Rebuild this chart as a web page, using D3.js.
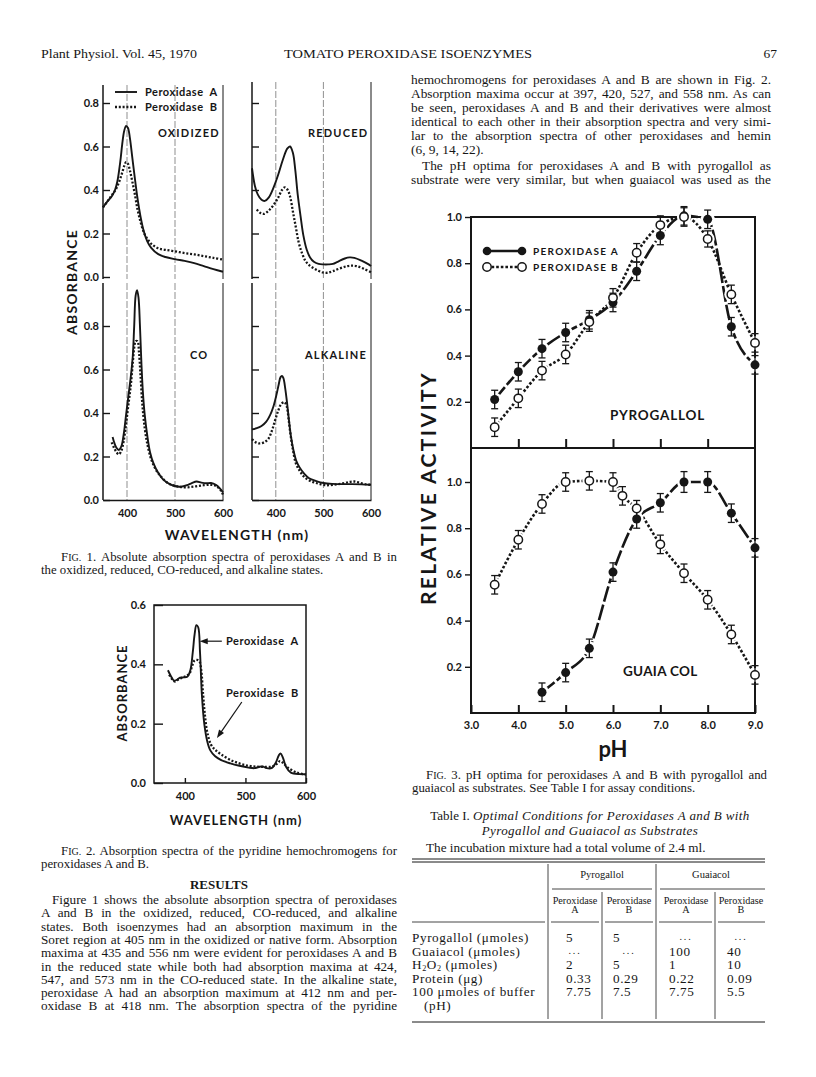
<!DOCTYPE html>
<html>
<head>
<meta charset="utf-8">
<title>Tomato peroxidase isoenzymes, p. 67</title>
<script src="https://cdn.jsdelivr.net/npm/d3@7/dist/d3.min.js"></script>
<style>
  body { margin: 0; background: #fff; }
  svg text { fill: #161616; }
</style>
</head>
<body>
<div id="page"></div>
<script>
// ---- Fig. 1: absolute spectra, [wavelength (nm), absorbance] ----
const oxidizedA = [[350,0.32],[360,0.35],[368,0.37],[375,0.40],[380,0.44],[386,0.53],[390,0.61],[394,0.67],[398,0.695],[402,0.685],[406,0.64],[411,0.55],[416,0.46],[422,0.36],[428,0.28],[435,0.21],[442,0.165],[450,0.135],[465,0.105],[480,0.092],[500,0.082],[520,0.074],[540,0.064],[560,0.05],[580,0.036],[600,0.024]];
const oxidizedB = [[350,0.32],[360,0.35],[368,0.375],[376,0.40],[384,0.44],[390,0.48],[395,0.515],[398,0.528],[402,0.52],[406,0.49],[411,0.44],[416,0.385],[422,0.31],[428,0.255],[436,0.2],[444,0.17],[452,0.15],[465,0.132],[480,0.125],[500,0.118],[520,0.11],[540,0.104],[560,0.096],[580,0.088],[600,0.08]];
const reducedA = [[350,0.5],[356,0.42],[362,0.38],[370,0.355],[377,0.35],[385,0.365],[395,0.41],[405,0.47],[415,0.54],[424,0.59],[430,0.6],[436,0.57],[441,0.49],[446,0.38],[452,0.28],[458,0.19],[465,0.125],[472,0.09],[480,0.07],[490,0.06],[500,0.058],[510,0.058],[520,0.06],[530,0.07],[545,0.085],[555,0.09],[565,0.088],[580,0.075],[595,0.058],[600,0.05]];
const reducedB = [[360,0.31],[367,0.295],[375,0.29],[385,0.305],[395,0.33],[405,0.365],[413,0.4],[419,0.412],[425,0.4],[430,0.37],[436,0.3],[442,0.23],[448,0.16],[455,0.11],[462,0.075],[470,0.055],[480,0.04],[490,0.028],[500,0.02],[510,0.02],[520,0.027],[535,0.04],[550,0.05],[560,0.052],[570,0.05],[585,0.038],[600,0.022]];
const coA = [[370,0.29],[374,0.26],[378,0.24],[383,0.23],[388,0.245],[393,0.3],[398,0.39],[403,0.48],[408,0.57],[412,0.66],[415,0.8],[418,0.94],[421,0.965],[424,0.93],[427,0.8],[430,0.63],[433,0.5],[437,0.39],[442,0.3],[448,0.22],[455,0.17],[465,0.125],[475,0.095],[490,0.072],[505,0.062],[515,0.062],[525,0.068],[535,0.078],[545,0.085],[555,0.08],[565,0.077],[575,0.078],[585,0.07],[593,0.055],[600,0.035]];
const coB = [[368,0.265],[373,0.24],[378,0.22],[383,0.21],[388,0.225],[393,0.27],[398,0.35],[403,0.44],[408,0.53],[412,0.63],[415,0.7],[418,0.73],[422,0.73],[425,0.68],[428,0.58],[432,0.44],[437,0.33],[443,0.25],[450,0.19],[460,0.14],[470,0.11],[485,0.078],[500,0.065],[520,0.058],[540,0.062],[560,0.068],[575,0.07],[585,0.065],[595,0.045],[600,0.025]];
const alkalineA = [[350,0.325],[360,0.33],[370,0.34],[380,0.36],[388,0.39],[395,0.43],[401,0.48],[406,0.53],[410,0.565],[413,0.57],[416,0.56],[420,0.51],[424,0.44],[428,0.36],[432,0.29],[437,0.23],[443,0.18],[450,0.15],[460,0.12],[470,0.1],[485,0.087],[500,0.078],[520,0.074],[540,0.073],[560,0.073],[580,0.072],[600,0.07]];
const alkalineB = [[350,0.28],[358,0.265],[366,0.26],[375,0.265],[384,0.28],[392,0.32],[399,0.37],[405,0.41],[411,0.44],[418,0.45],[423,0.43],[427,0.37],[431,0.3],[436,0.23],[442,0.17],[450,0.135],[460,0.105],[475,0.085],[490,0.075],[505,0.068],[520,0.07],[540,0.076],[555,0.083],[565,0.085],[575,0.08],[590,0.072],[600,0.07]];
const fig1States = ['OXIDIZED', 'REDUCED', 'CO', 'ALKALINE'];
const absTicks = [0, 0.2, 0.4, 0.6, 0.8];
const nmTicks = [400, 500, 600];

// ---- Fig. 2: pyridine hemochromogens ----
const pyridineA = [[372,0.38],[377,0.36],[382,0.345],[387,0.348],[392,0.355],[398,0.356],[404,0.358],[409,0.38],[413,0.44],[416,0.5],[419,0.532],[422,0.525],[425,0.44],[428,0.3],[432,0.2],[437,0.14],[442,0.11],[450,0.09],[460,0.077],[475,0.066],[490,0.058],[505,0.052],[515,0.05],[522,0.054],[528,0.056],[535,0.05],[543,0.05],[550,0.068],[555,0.093],[558,0.1],[562,0.085],[567,0.055],[575,0.035],[590,0.03],[600,0.03]];
const pyridineB = [[374,0.365],[379,0.35],[384,0.342],[390,0.35],[396,0.356],[402,0.36],[408,0.37],[412,0.395],[416,0.413],[420,0.415],[424,0.41],[427,0.38],[430,0.3],[433,0.23],[437,0.17],[443,0.13],[450,0.112],[460,0.096],[475,0.078],[490,0.066],[505,0.058],[520,0.055],[535,0.054],[545,0.056],[552,0.065],[557,0.074],[562,0.068],[570,0.052],[585,0.035],[600,0.028]];
const fig2Ticks = [0, 0.2, 0.4, 0.6];

// ---- Fig. 3: pH optima, [pH, relative activity, error] ----
const pyrogallolA = [[3.5,0.21,0.04],[4.0,0.33,0.04],[4.5,0.43,0.04],[5.0,0.50,0.04],[5.5,0.555,0.04],[6.0,0.63,0.04],[6.5,0.765,0.04],[7.0,0.92,0.04],[7.5,1.005,0.04],[8.0,0.99,0.04],[8.5,0.525,0.04],[9.0,0.36,0.04]];
const pyrogallolB = [[3.5,0.09,0.04],[4.0,0.215,0.04],[4.5,0.335,0.04],[5.0,0.405,0.04],[5.5,0.545,0.04],[6.0,0.65,0.04],[6.5,0.845,0.04],[7.0,0.965,0.04],[7.5,1.0,0.04],[8.0,0.905,0.035],[8.5,0.665,0.04],[9.0,0.455,0.04]];
const guaiacolA = [[4.5,0.09,0.04],[5.0,0.175,0.04],[5.5,0.28,0.04],[6.0,0.61,0.04],[6.5,0.84,0.04],[7.0,0.91,0.04],[7.5,1.0,0.045],[8.0,1.0,0.045],[8.5,0.865,0.04],[9.0,0.715,0.04]];
const guaiacolB = [[3.5,0.555,0.04],[4.0,0.75,0.04],[4.5,0.905,0.04],[5.0,1.0,0.04],[5.5,1.005,0.04],[6.0,1.0,0.04],[6.2,0.94,0.04],[6.5,0.885,0.035],[7.0,0.73,0.04],[7.5,0.605,0.04],[8.0,0.49,0.04],[8.5,0.34,0.04],[9.0,0.165,0.04]];
const phTicks = [3, 4, 5, 6, 7, 8, 9];
const activityTicks = [0.2, 0.4, 0.6, 0.8, 1.0];

// ---- Table I ----
const tableSubstrates = ['Pyrogallol', 'Guaiacol'];
const tableEnzymes = ['A', 'B', 'A', 'B'];
const tableRowLabels = ['Pyrogallol (μmoles)', 'Guaiacol (μmoles)', 'H₂O₂ (μmoles)', 'Protein (μg)', '100 μmoles of buffer'];
const pyroPerA = ['5', '...', '2', '0.33', '7.75'];
const pyroPerB = ['5', '...', '5', '0.29', '7.5'];
const guaiPerA = ['...', '100', '1', '0.22', '7.75'];
const guaiPerB = ['...', '40', '10', '0.09', '5.5'];

// ---- running text ----
const headerLeft = 'Plant Physiol. Vol. 45, 1970';
const headerTitle = 'TOMATO PEROXIDASE ISOENZYMES';
const pageNumber = '67';
const rightTopLines = [
  'hemochromogens for peroxidases A and B are shown in Fig. 2.',
  'Absorption maxima occur at 397, 420, 527, and 558 nm. As can',
  'be seen, peroxidases A and B and their derivatives were almost',
  'identical to each other in their absorption spectra and very simi-',
  'lar to the absorption spectra of other peroxidases and hemin',
  '(6, 9, 14, 22).',
  'The pH optima for peroxidases A and B with pyrogallol as',
  'substrate were very similar, but when guaiacol was used as the'
];
const resultsLines = [
  'Figure 1 shows the absolute absorption spectra of peroxidases',
  'A and B in the oxidized, reduced, CO-reduced, and alkaline',
  'states. Both isoenzymes had an absorption maximum in the',
  'Soret region at 405 nm in the oxidized or native form. Absorption',
  'maxima at 435 and 556 nm were evident for peroxidases A and B',
  'in the reduced state while both had absorption maxima at 424,',
  '547, and 573 nm in the CO-reduced state. In the alkaline state,',
  'peroxidase A had an absorption maximum at 412 nm and per-',
  'oxidase B at 418 nm. The absorption spectra of the pyridine'
];
const fig1Caption = ['FIG. 1. Absolute absorption spectra of peroxidases A and B in',
  'the oxidized, reduced, CO-reduced, and alkaline states.'];
const fig2Caption = ['FIG. 2. Absorption spectra of the pyridine hemochromogens for',
  'peroxidases A and B.'];
const fig3Caption = ['FIG. 3. pH optima for peroxidases A and B with pyrogallol and',
  'guaiacol as substrates. See Table I for assay conditions.'];

const SERIF = '"Liberation Serif", "Times New Roman", serif';
const SANS = 'Lato, "DejaVu Sans", sans-serif';
const INK = '#161616';
const BODY = 13.4;
const CAPTION = 12.8;

const svg = d3.select('#page').append('svg')
  .attr('width', 816)
  .attr('height', 1077);

// write a string into a text node, small caps for "FIG." and subscripts for ₂
function fillText(t, str, size) {
  let rest = str;
  if (rest.startsWith('FIG.')) {
    t.append('tspan').text('F');
    t.append('tspan').attr('font-size', size * 0.78).text('IG.');
    rest = rest.slice(4);
  }
  let lowered = false;
  rest.split(/(₂)/).forEach(piece => {
    if (!piece) return;
    if (piece === '₂') {
      t.append('tspan').attr('font-size', size * 0.62).attr('dy', 2).text('2');
      lowered = true;
    } else {
      const ts = t.append('tspan').text(piece);
      if (lowered) { ts.attr('dy', -2); lowered = false; }
    }
  });
}

// one line of body text, optionally justified between x0 and x1
function textLine(str, x0, x1, y, opts = {}) {
  const size = opts.size || BODY;
  const indent = opts.indent || 0;
  const t = svg.append('text')
    .attr('x', x0 + indent)
    .attr('y', y)
    .attr('font-family', SERIF)
    .attr('font-size', size);
  fillText(t, str, size);
  if (opts.justify) {
    const natural = t.node().getComputedTextLength();
    const gaps = (str.match(/ /g) || []).length;
    if (gaps) t.attr('word-spacing', (x1 - x0 - indent - natural) / gaps);
  }
  return t;
}

function styleAxis(g, size) {
  g.selectAll('text')
    .attr('font-family', SANS)
    .attr('font-weight', 700)
    .attr('font-size', size)
    .attr('fill', INK);
  g.selectAll('line').attr('stroke', INK).attr('stroke-width', 1.4);
}

// ---------------- header ----------------
svg.append('text').attr('x', 41).attr('y', 58)
  .attr('font-family', SERIF).attr('font-size', 13.5)
  .attr('textLength', 156).attr('lengthAdjust', 'spacingAndGlyphs')
  .text(headerLeft);
svg.append('text').attr('x', 284).attr('y', 58)
  .attr('font-family', SERIF).attr('font-size', 13.5)
  .attr('textLength', 248).attr('lengthAdjust', 'spacingAndGlyphs')
  .text(headerTitle);
svg.append('text').attr('x', 777).attr('y', 58)
  .attr('text-anchor', 'end')
  .attr('font-family', SERIF).attr('font-size', 13.5)
  .text(pageNumber);

// ---------------- Fig. 1 ----------------
const fig1Panels = [
  { a: oxidizedA, b: oxidizedB, left: 103, right: 223, top: 85, base: 277, yLabels: true, xLabels: false, tx: 158, ty: 137 },
  { a: reducedA, b: reducedB, left: 252, right: 371, top: 82, base: 277, yLabels: false, xLabels: false, tx: 308, ty: 137 },
  { a: coA, b: coB, left: 103, right: 223, top: 283, base: 500, yLabels: true, xLabels: true, tx: 190, ty: 359 },
  { a: alkalineA, b: alkalineB, left: 252, right: 371, top: 283, base: 500, yLabels: false, xLabels: true, tx: 305, ty: 359 }
];

const fig1 = svg.append('g').attr('class', 'fig1');

fig1Panels.forEach((p, i) => {
  const x = d3.scaleLinear().domain([350, 600]).range([p.left, p.right]);
  const y = d3.scaleLinear().domain([0, 0.8]).range([p.base, p.base - 174]);
  const g = fig1.append('g');

  // wavelength guide lines
  nmTicks.forEach(nm => {
    g.append('line')
      .attr('x1', x(nm)).attr('x2', x(nm))
      .attr('y1', p.top).attr('y2', p.base + (p.xLabels ? 0 : 2))
      .attr('stroke', nm === 600 ? INK : '#444')
      .attr('stroke-width', nm === 600 ? 1 : 0.6)
      .attr('stroke-dasharray', nm === 600 ? null : '7,2');
  });

  // left axis line
  g.append('line')
    .attr('x1', p.left).attr('x2', p.left)
    .attr('y1', p.top).attr('y2', p.base + (p.xLabels ? 0 : 2))
    .attr('stroke', INK).attr('stroke-width', 1.5);

  const yAxis = g.append('g')
    .attr('transform', `translate(${p.left},0)`)
    .call(d3.axisLeft(y).tickValues(absTicks).tickSize(-7).tickPadding(4)
      .tickFormat(p.yLabels ? d3.format('.1f') : ''));
  yAxis.select('.domain').remove();
  styleAxis(yAxis, 11);

  if (p.xLabels) {
    const xAxis = g.append('g')
      .attr('transform', `translate(0,${p.base})`)
      .call(d3.axisBottom(x).tickValues(nmTicks).tickSize(0).tickPadding(9).tickSizeOuter(0));
    xAxis.select('.domain').attr('stroke', INK).attr('stroke-width', 1.5);
    styleAxis(xAxis, 11);
  }

  const line = d3.line()
    .x(d => x(d[0]))
    .y(d => y(d[1]))
    .curve(d3.curveCatmullRom.alpha(0.5));

  g.append('path')
    .attr('d', line(p.b))
    .attr('fill', 'none')
    .attr('stroke', INK)
    .attr('stroke-width', 2.3)
    .attr('stroke-dasharray', '2,1.8');

  g.append('path')
    .attr('d', line(p.a))
    .attr('fill', 'none')
    .attr('stroke', INK)
    .attr('stroke-width', 1.9);

  g.append('text')
    .attr('x', p.tx).attr('y', p.ty)
    .attr('font-family', SANS).attr('font-weight', 700)
    .attr('font-size', 11).attr('letter-spacing', 1.2)
    .text(fig1States[i]);
});

// legend of Fig. 1
const leg1 = fig1.append('g');
leg1.append('line').attr('x1', 115).attr('x2', 137).attr('y1', 92).attr('y2', 92)
  .attr('stroke', INK).attr('stroke-width', 1.9);
leg1.append('line').attr('x1', 115).attr('x2', 137).attr('y1', 107).attr('y2', 107)
  .attr('stroke', INK).attr('stroke-width', 2.3).attr('stroke-dasharray', '2,1.8');
['Peroxidase  A', 'Peroxidase  B'].forEach((s, i) => {
  leg1.append('text')
    .attr('x', 145).attr('y', 96 + i * 15)
    .attr('font-family', SANS).attr('font-weight', 700)
    .attr('font-size', 11).attr('letter-spacing', 0.5)
    .attr('xml:space', 'preserve')
    .text(s);
});

fig1.append('text')
  .attr('transform', 'translate(77,282) rotate(-90)')
  .attr('text-anchor', 'middle')
  .attr('font-family', SANS).attr('font-weight', 700)
  .attr('font-size', 14).attr('letter-spacing', 1.2)
  .text('ABSORBANCE');
fig1.append('text')
  .attr('x', 237).attr('y', 540)
  .attr('text-anchor', 'middle')
  .attr('font-family', SANS).attr('font-weight', 700)
  .attr('font-size', 14).attr('letter-spacing', 1.2)
  .text('WAVELENGTH (nm)');

// caption
textLine(fig1Caption[0], 41, 397, 561, { justify: true, indent: 20, size: CAPTION });
textLine(fig1Caption[1], 41, 397, 574, { size: CAPTION });

// ---------------- Fig. 2 ----------------
const fig2 = svg.append('g').attr('class', 'fig2');
const x2 = d3.scaleLinear().domain([349, 600]).range([154, 306]);
const y2 = d3.scaleLinear().domain([0, 0.6]).range([783, 605]);

fig2.append('rect')
  .attr('x', 154).attr('y', 605).attr('width', 152).attr('height', 178)
  .attr('fill', 'none').attr('stroke', INK).attr('stroke-width', 1.5);

const y2Axis = fig2.append('g')
  .attr('transform', 'translate(154,0)')
  .call(d3.axisLeft(y2).tickValues(fig2Ticks).tickSize(-9).tickPadding(8).tickFormat(d3.format('.1f')));
y2Axis.select('.domain').remove();
styleAxis(y2Axis, 11);

const x2Axis = fig2.append('g')
  .attr('transform', 'translate(0,783)')
  .call(d3.axisBottom(x2).tickValues(nmTicks).tickSize(-5).tickPadding(9));
x2Axis.select('.domain').remove();
styleAxis(x2Axis, 11);

const line2 = d3.line()
  .x(d => x2(d[0]))
  .y(d => y2(d[1]))
  .curve(d3.curveCatmullRom.alpha(0.5));

fig2.append('path')
  .attr('d', line2(pyridineB))
  .attr('fill', 'none').attr('stroke', INK)
  .attr('stroke-width', 2.3).attr('stroke-dasharray', '2,1.8');
fig2.append('path')
  .attr('d', line2(pyridineA))
  .attr('fill', 'none').attr('stroke', INK)
  .attr('stroke-width', 1.9);

// arrows to the two curves
function arrow(g, from, to) {
  const [fx, fy] = [x2(from[0]), y2(from[1])];
  const [tx, ty] = [x2(to[0]), y2(to[1])];
  const ang = Math.atan2(ty - fy, tx - fx);
  g.append('line')
    .attr('x1', fx).attr('y1', fy)
    .attr('x2', tx - 5 * Math.cos(ang)).attr('y2', ty - 5 * Math.sin(ang))
    .attr('stroke', INK).attr('stroke-width', 1.2);
  const hw = 3;
  const bx = tx - 8 * Math.cos(ang), by = ty - 8 * Math.sin(ang);
  g.append('path')
    .attr('d', `M${tx},${ty}L${bx - hw * Math.sin(ang)},${by + hw * Math.cos(ang)}L${bx + hw * Math.sin(ang)},${by - hw * Math.cos(ang)}Z`)
    .attr('fill', INK);
}
arrow(fig2, [461, 0.478], [424.5, 0.478]);
arrow(fig2, [494, 0.273], [453, 0.152]);

fig2.append('text').attr('x', x2(468)).attr('y', y2(0.478) + 4)
  .attr('font-family', SANS).attr('font-weight', 700).attr('font-size', 11)
  .attr('letter-spacing', 0.5).attr('xml:space', 'preserve')
  .text('Peroxidase  A');
fig2.append('text').attr('x', x2(468)).attr('y', y2(0.30) + 3)
  .attr('font-family', SANS).attr('font-weight', 700).attr('font-size', 11)
  .attr('letter-spacing', 0.5).attr('xml:space', 'preserve')
  .text('Peroxidase  B');

fig2.append('text')
  .attr('transform', 'translate(127,693) rotate(-90)')
  .attr('text-anchor', 'middle')
  .attr('font-family', SANS).attr('font-weight', 700)
  .attr('font-size', 13).attr('letter-spacing', 1)
  .text('ABSORBANCE');
fig2.append('text')
  .attr('x', 236).attr('y', 825)
  .attr('text-anchor', 'middle')
  .attr('font-family', SANS).attr('font-weight', 700)
  .attr('font-size', 13).attr('letter-spacing', 1)
  .text('WAVELENGTH (nm)');

textLine(fig2Caption[0], 41, 397, 855, { justify: true, indent: 20, size: CAPTION });
textLine(fig2Caption[1], 41, 397, 868, { size: CAPTION });

// RESULTS
svg.append('text').attr('x', 219).attr('y', 888.5)
  .attr('text-anchor', 'middle')
  .attr('font-family', SERIF).attr('font-weight', 700).attr('font-size', 13)
  .text('RESULTS');
resultsLines.forEach((s, i) => {
  textLine(s, 41, 397, 904 + i * 13.3, { justify: true, indent: i === 0 ? 11 : 0, size: 13.2 });
});

// right column opening text
const rightTopY = [84, 98, 112, 126, 140, 154, 170, 184];
rightTopLines.forEach((s, i) => {
  textLine(s, 411, 771, rightTopY[i], { justify: i !== 5, indent: i === 6 ? 11 : 0 });
});

// ---------------- Fig. 3 ----------------
const fig3 = svg.append('g').attr('class', 'fig3');
const px = d3.scaleLinear().domain([3, 9]).range([471, 755]);
const yPyro = d3.scaleLinear().domain([0, 1]).range([448, 217]);
const yGuai = d3.scaleLinear().domain([0, 1]).range([713, 482]);

fig3.append('rect')
  .attr('x', 471).attr('y', 217).attr('width', 284).attr('height', 496)
  .attr('fill', 'none').attr('stroke', INK).attr('stroke-width', 2);
fig3.append('line')
  .attr('x1', 471).attr('x2', 755).attr('y1', 448).attr('y2', 448)
  .attr('stroke', INK).attr('stroke-width', 2);

[yPyro, yGuai].forEach(y => {
  const ax = fig3.append('g')
    .attr('transform', 'translate(471,0)')
    .call(d3.axisLeft(y).tickValues(activityTicks).tickSize(6).tickPadding(3).tickFormat(d3.format('.1f')));
  ax.select('.domain').remove();
  styleAxis(ax, 11);
});

const phAxis = fig3.append('g')
  .attr('transform', 'translate(0,713)')
  .call(d3.axisBottom(px).tickValues(phTicks).tickSize(-8).tickPadding(8).tickFormat(d3.format('.1f')));
phAxis.select('.domain').remove();
styleAxis(phAxis, 11);
phAxis.selectAll('line').attr('stroke-width', 2);

const midAxis = fig3.append('g')
  .attr('transform', 'translate(0,448)')
  .call(d3.axisBottom(px).tickValues(phTicks.slice(1, -1)).tickSize(-9).tickFormat(''));
midAxis.select('.domain').remove();
midAxis.selectAll('line').attr('stroke', INK).attr('stroke-width', 2);

const seriesList = [
  { data: pyrogallolA, y: yPyro, filled: true },
  { data: pyrogallolB, y: yPyro, filled: false },
  { data: guaiacolA, y: yGuai, filled: true },
  { data: guaiacolB, y: yGuai, filled: false }
];

// connecting lines
seriesList.forEach(s => {
  const line = d3.line()
    .x(d => px(d[0]))
    .y(d => s.y(d[1]))
    .curve(d3.curveMonotoneX);
  fig3.append('path')
    .attr('d', line(s.data))
    .attr('fill', 'none')
    .attr('stroke', INK)
    .attr('stroke-width', 2.6)
    .attr('stroke-dasharray', s.filled ? '16,3' : '2.6,2');
});

// white gaps round the points
seriesList.forEach(s => {
  fig3.append('g').selectAll('circle')
    .data(s.data)
    .enter()
    .append('circle')
    .attr('cx', d => px(d[0]))
    .attr('cy', d => s.y(d[1]))
    .attr('r', 7)
    .attr('fill', '#fff');
});

// error bars and points
seriesList.forEach(s => {
  const g = fig3.append('g');
  const bars = g.selectAll('g.bar')
    .data(s.data)
    .enter()
    .append('g')
    .attr('class', 'bar');
  bars.append('line')
    .attr('x1', d => px(d[0])).attr('x2', d => px(d[0]))
    .attr('y1', d => s.y(d[1] - d[2])).attr('y2', d => s.y(d[1] + d[2]))
    .attr('stroke', INK).attr('stroke-width', 1.3);
  [-1, 1].forEach(sign => {
    bars.append('line')
      .attr('x1', d => px(d[0]) - 3.5).attr('x2', d => px(d[0]) + 3.5)
      .attr('y1', d => s.y(d[1] + sign * d[2])).attr('y2', d => s.y(d[1] + sign * d[2]))
      .attr('stroke', INK).attr('stroke-width', 1.3);
  });
  bars.append('circle')
    .attr('cx', d => px(d[0]))
    .attr('cy', d => s.y(d[1]))
    .attr('r', s.filled ? 4.5 : 4.2)
    .attr('fill', s.filled ? INK : '#fff')
    .attr('stroke', INK)
    .attr('stroke-width', s.filled ? 0 : 1.5);
});

// legend of Fig. 3
const leg3 = fig3.append('g');
[[251, true], [267, false]].forEach(([ly, filled]) => {
  leg3.append('line').attr('x1', 487).attr('x2', 522).attr('y1', ly).attr('y2', ly)
    .attr('stroke', INK).attr('stroke-width', 2.6)
    .attr('stroke-dasharray', filled ? null : '2.6,2');
  [487, 522].forEach(lx => {
    leg3.append('circle').attr('cx', lx).attr('cy', ly).attr('r', filled ? 4.3 : 4.2)
      .attr('fill', filled ? INK : '#fff').attr('stroke', INK)
      .attr('stroke-width', filled ? 0 : 1.5);
  });
  leg3.append('text').attr('x', 533).attr('y', ly + 4)
    .attr('font-family', SANS).attr('font-weight', 700)
    .attr('font-size', 10).attr('letter-spacing', 1.3)
    .text(filled ? 'PEROXIDASE A' : 'PEROXIDASE B');
});

fig3.append('text').attr('x', 610).attr('y', 420)
  .attr('font-family', SANS).attr('font-weight', 700)
  .attr('font-size', 13.5).attr('letter-spacing', 0.8)
  .text('PYROGALLOL');
fig3.append('text').attr('x', 623).attr('y', 676)
  .attr('font-family', SANS).attr('font-weight', 700)
  .attr('font-size', 13.5).attr('letter-spacing', 0.3)
  .text('GUAIA COL');

fig3.append('text')
  .attr('transform', 'translate(436,488) rotate(-90)')
  .attr('text-anchor', 'middle')
  .attr('font-family', SANS).attr('font-weight', 700)
  .attr('font-size', 21).attr('letter-spacing', 2.4)
  .text('RELATIVE ACTIVITY');
fig3.append('text')
  .attr('x', 613).attr('y', 757)
  .attr('text-anchor', 'middle')
  .attr('font-family', SANS).attr('font-weight', 700)
  .attr('font-size', 22)
  .text('pH');

textLine(fig3Caption[0], 412, 767, 779, { justify: true, indent: 14, size: CAPTION });
textLine(fig3Caption[1], 412, 767, 792, { size: CAPTION });

// ---------------- Table I ----------------
const title1 = svg.append('text').attr('x', 590).attr('y', 820)
  .attr('text-anchor', 'middle').attr('font-family', SERIF).attr('font-size', 13);
title1.append('tspan').text('Table I. ');
title1.append('tspan').attr('font-style', 'italic').attr('letter-spacing', 0.4)
  .text('Optimal Conditions for Peroxidases A and B with');
svg.append('text').attr('x', 590).attr('y', 835)
  .attr('text-anchor', 'middle').attr('font-family', SERIF).attr('font-size', 13)
  .attr('font-style', 'italic').attr('letter-spacing', 0.4)
  .text('Pyrogallol and Guaiacol as Substrates');
textLine('The incubation mixture had a total volume of 2.4 ml.', 426, 767, 852, { size: 13.2 });

const table = svg.append('g').attr('class', 'table');
const rule = (x1, x2, y, w = 0.8) => table.append('line')
  .attr('x1', x1).attr('x2', x2).attr('y1', y).attr('y2', y)
  .attr('stroke', INK).attr('stroke-width', w);
const vrule = (x, y1, y2) => table.append('line')
  .attr('x1', x).attr('x2', x).attr('y1', y1).attr('y2', y2)
  .attr('stroke', INK).attr('stroke-width', 0.8);

rule(412, 765, 859, 1);
rule(412, 765, 862, 1);
rule(552, 652, 889);
rule(660, 765, 889);
rule(412, 545, 922);
rule(551, 599, 922);
rule(605, 653, 922);
rule(659, 712, 922);
rule(718, 765, 922);
rule(412, 765, 1022, 1);
vrule(548, 864, 1019);
vrule(656, 864, 1019);
vrule(602, 892, 1019);
vrule(715, 892, 1019);

const TABLE = 13.2;
const substrateX = [602, 711];
tableSubstrates.forEach((s, i) => {
  table.append('text').attr('x', substrateX[i]).attr('y', 878)
    .attr('text-anchor', 'middle').attr('font-family', SERIF).attr('font-size', 10.5)
    .text(s);
});
const colCenter = [575, 629, 686, 741];
tableEnzymes.forEach((e, i) => {
  table.append('text').attr('x', colCenter[i]).attr('y', 904)
    .attr('text-anchor', 'middle').attr('font-family', SERIF).attr('font-size', 10.2)
    .text('Peroxidase');
  table.append('text').attr('x', colCenter[i]).attr('y', 913)
    .attr('text-anchor', 'middle').attr('font-family', SERIF).attr('font-size', 10.2)
    .text(e);
});

const rowY = tableRowLabels.map((_, i) => 942 + i * 13.6);
tableRowLabels.forEach((s, i) => {
  const t = table.append('text').attr('x', 412).attr('y', rowY[i])
    .attr('font-family', SERIF).attr('font-size', TABLE).attr('letter-spacing', 0.6);
  fillText(t, s, TABLE);
});
table.append('text').attr('x', 424).attr('y', 942 + 5 * 13.6)
  .attr('font-family', SERIF).attr('font-size', TABLE).attr('letter-spacing', 0.6)
  .text('(pH)');

const colLeft = [566, 613, 669, 727];
[pyroPerA, pyroPerB, guaiPerA, guaiPerB].forEach((col, ci) => {
  col.forEach((v, ri) => {
    const dots = v === '...';
    table.append('text')
      .attr('x', dots ? colCenter[ci] : colLeft[ci])
      .attr('y', rowY[ri] - (dots ? 2 : 0))
      .attr('text-anchor', dots ? 'middle' : 'start')
      .attr('font-family', SERIF).attr('font-size', dots ? 10 : TABLE)
      .attr('letter-spacing', dots ? 1.8 : 0.6)
      .text(v);
  });
});
</script>
</body>
</html>
